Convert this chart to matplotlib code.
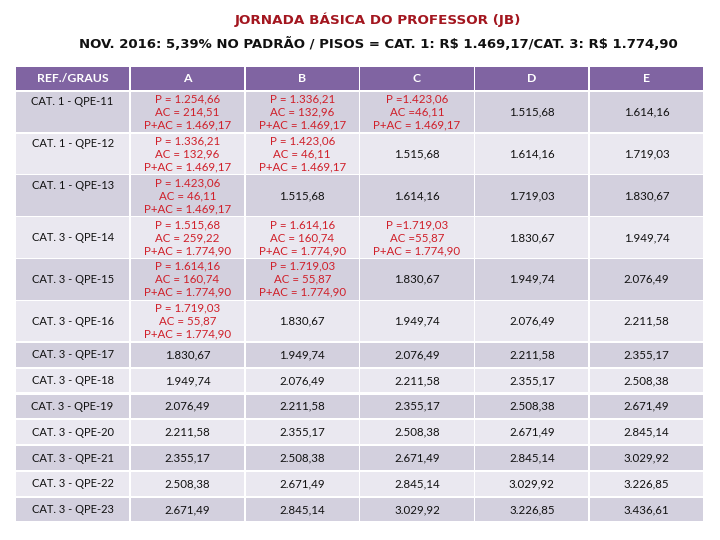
import matplotlib
matplotlib.use("Agg")
import matplotlib.pyplot as plt
from matplotlib.patches import Rectangle
from matplotlib import font_manager

# ---------------- data ----------------
title_line1 = "JORNADA BÁSICA DO PROFESSOR (JB)"
title_line2 = "NOV. 2016: 5,39% NO PADRÃO / PISOS = CAT. 1: R$ 1.469,17/CAT. 3: R$ 1.774,90"

col_labels = ["REF./GRAUS", "A", "B", "C", "D", "E"]
row_labels = ["CAT. 1 - QPE-11", "CAT. 1 - QPE-12", "CAT. 1 - QPE-13",
              "CAT. 3 - QPE-14", "CAT. 3 - QPE-15", "CAT. 3 - QPE-16",
              "CAT. 3 - QPE-17", "CAT. 3 - QPE-18", "CAT. 3 - QPE-19",
              "CAT. 3 - QPE-20", "CAT. 3 - QPE-21", "CAT. 3 - QPE-22",
              "CAT. 3 - QPE-23"]

grau_A = [1254.66, 1336.21, 1423.06, 1515.68, 1614.16, 1719.03, 1830.67,
          1949.74, 2076.49, 2211.58, 2355.17, 2508.38, 2671.49]
grau_B = [1336.21, 1423.06, 1515.68, 1614.16, 1719.03, 1830.67, 1949.74,
          2076.49, 2211.58, 2355.17, 2508.38, 2671.49, 2845.14]
grau_C = [1423.06, 1515.68, 1614.16, 1719.03, 1830.67, 1949.74, 2076.49,
          2211.58, 2355.17, 2508.38, 2671.49, 2845.14, 3029.92]
grau_D = [1515.68, 1614.16, 1719.03, 1830.67, 1949.74, 2076.49, 2211.58,
          2355.17, 2508.38, 2671.49, 2845.14, 3029.92, 3226.85]
grau_E = [1614.16, 1719.03, 1830.67, 1949.74, 2076.49, 2211.58, 2355.17,
          2508.38, 2671.49, 2845.14, 3029.92, 3226.85, 3436.61]

# complement (AC) per cell, None = no complement
ac_A = [214.51, 132.96, 46.11, 259.22, 160.74, 55.87] + [None] * 7
ac_B = [132.96, 46.11, None, 160.74, 55.87] + [None] * 8
ac_C = [46.11, None, None, 55.87] + [None] * 9
ac_D = [None] * 13
ac_E = [None] * 13

piso_row = [1469.17] * 3 + [1774.90] * 10

# ---------------- styling ----------------
FONT = "Lato"
HEADER_BG = "#8064A2"
BAND_DARK = "#D3D0DE"
BAND_LIGHT = "#EAE8F0"
RED = "#D0202A"

def fmt(v):
    s = f"{v:,.2f}"
    return s.replace(",", "X").replace(".", ",").replace("X", ".")

def has_font(name):
    try:
        font_manager.findfont(font_manager.FontProperties(family=name, weight="bold"),
                              fallback_to_default=False)
        return True
    except Exception:
        return False

TITLE_FONT = "Liberation Sans Narrow" if has_font("Liberation Sans Narrow") else "DejaVu Sans"

fig = plt.figure(figsize=(7.2, 5.4), dpi=100)
ax = fig.add_axes([0, 0, 1, 1])
ax.set_xlim(0, 720)
ax.set_ylim(540, 0)
ax.axis("off")

# title: fit each line to the width it takes in the reference
renderer = fig.canvas.get_renderer()
def fitted_title(xc, yc, s, target_w, color, size0):
    t = ax.text(xc, yc, s, ha="center", va="center", color=color, fontsize=size0,
                fontweight="bold", family=TITLE_FONT, parse_math=False)
    w = t.get_window_extent(renderer).width
    t.set_fontsize(size0 * target_w / w)
    return t

fitted_title(378, 19.5, title_line1, 286, "#A3161F", 14)
fitted_title(378, 44, title_line2, 597, "#111111", 14)

# geometry
x0, col_w, gap = 16, 113.2, 1.6
top = 67
header_h = 23
tall_h, short_h = 40.3, 23.6
n_tall = 6
grid_cols = [grau_A, grau_B, grau_C, grau_D, grau_E]
ac_cols = [ac_A, ac_B, ac_C, ac_D, ac_E]
eq_sep = ["= ", "= ", "=", "= ", "= "]

col_x = [x0 + i * (col_w + gap) for i in range(len(col_labels))]

# header
for i, lab in enumerate(col_labels):
    ax.add_patch(Rectangle((col_x[i], top), col_w, header_h, facecolor=HEADER_BG,
                           edgecolor="none"))
    ax.text(col_x[i] + col_w / 2, top + header_h / 2 + 0.5, lab, ha="center",
            va="center", color="white", fontsize=8.8, fontweight="bold", family=FONT)

NUM_FS = 8.3
y = top + header_h + gap
for r, lab in enumerate(row_labels):
    h = tall_h if r < n_tall else short_h
    bg = BAND_DARK if r % 2 == 0 else BAND_LIGHT
    for i in range(len(col_labels)):
        ax.add_patch(Rectangle((col_x[i], y), col_w, h, facecolor=bg, edgecolor="none"))
    cy = y + h / 2
    # row label (CAT. 1 rows are top aligned in the original)
    ly = y + 10 if lab.startswith("CAT. 1") else cy
    ax.text(col_x[0] + col_w / 2, ly, lab, ha="center", va="center",
            fontsize=8.0, family=FONT, color="#111111")
    for c in range(5):
        v = grid_cols[c][r]
        ac = ac_cols[c][r]
        cx = col_x[c + 1] + col_w / 2
        if ac is None:
            ax.text(cx, cy, fmt(v), ha="center", va="center", fontsize=NUM_FS,
                    family=FONT, color="#111111")
        else:
            sep = eq_sep[c]
            lines = [f"P {sep}{fmt(v)}", f"AC {sep}{fmt(ac)}", f"P+AC = {fmt(piso_row[r])}"]
            for k, t in enumerate(lines):
                ax.text(cx, cy + (k - 1) * 13, t, ha="center", va="center",
                        fontsize=NUM_FS, family=FONT, color=RED)
    y += h + gap + (0.6 if r >= n_tall else 0)

fig.savefig("out.png", dpi=100, facecolor="white")
